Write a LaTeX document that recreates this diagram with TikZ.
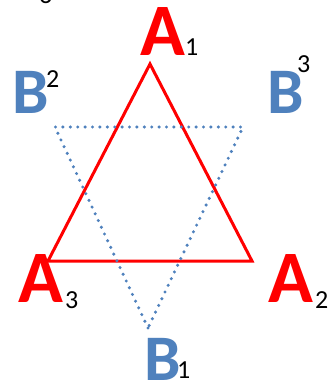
\documentclass[tikz,border=0pt]{standalone}
\usepackage{fontspec}
\setmainfont{Carlito}
\usepackage{xcolor}
\usepackage{tikz}

\definecolor{tri red}{HTML}{FF0000}
\definecolor{tri blue}{HTML}{4F81BD}

\tikzset{
    bigA/.style={anchor=base west, inner sep=0pt, text=tri red, font=\fontsize{74}{74}\selectfont\bfseries},
    bigB/.style={anchor=base west, inner sep=0pt, text=tri blue, font=\fontsize{65}{65}\selectfont\bfseries},
    idx/.style={anchor=base west, inner sep=0pt, text=black, font=\fontsize{26}{26}\selectfont},
}

\begin{document}
\begin{tikzpicture}[x=1pt, y=-1pt]
    \useasboundingbox (0, 0) rectangle (332, 380);

    \coordinate (A1) at (150, 64);
    \coordinate (A2) at (252, 261);
    \coordinate (A3) at (48, 261);
    \coordinate (B1) at (148, 328);
    \coordinate (B2) at (55, 127);
    \coordinate (B3) at (243, 127);

    \node[bigA] at (140, 55) (a1) {A};
    \node[idx] at (185, 55) (i1) {1};
    \node[bigA] at (18, 302) (a3) {A};
    \node[idx] at (65, 308) (i3) {3};
    \node[bigA] at (268, 302) (a2) {A};
    \node[idx] at (315, 308) (i2) {2};

    \node[bigB] at (12, 113) (b2) {B};
    \node[idx] at (46, 87) (j2) {2};
    \node[bigB] at (267, 113) (b3) {B};
    \node[idx] at (297, 72) (j3) {3};
    \node[bigB] at (144, 380) (b1) {B};
    \node[idx] at (177, 378) (j1) {1};

    \node[idx] at (39, 4) (top) {3};

    \draw[tri red, line width=3pt, line join=miter] (A1) -- (A2) -- (A3) -- cycle;
    \draw[tri blue, line width=3.4pt, line cap=round, dash pattern=on 0pt off 7.4pt] (B1) -- (B2) -- (B3) -- cycle;
\end{tikzpicture}
\end{document}
